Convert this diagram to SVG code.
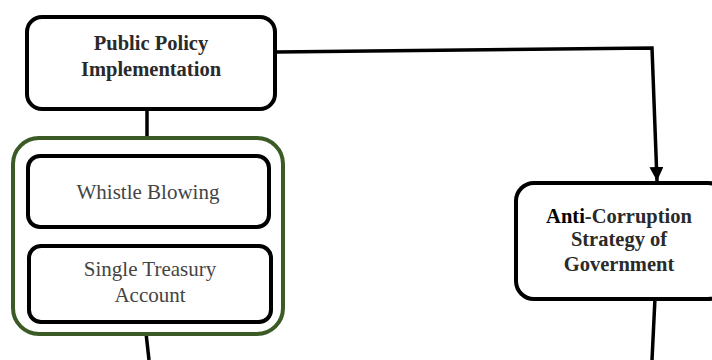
<svg xmlns="http://www.w3.org/2000/svg" width="712" height="360" viewBox="0 0 712 360">
<style>
.box{fill:#fff;stroke:#000;stroke-width:4}
.grp{fill:#fff;stroke:#3b5a26;stroke-width:4}
.t{font-family:"Liberation Serif","Times New Roman",serif;fill:#2a2a2a;text-anchor:middle}
.b{font-weight:bold;font-size:20.5px}
.r{font-size:21px;fill:#444}
.c{fill:none;stroke:#000;stroke-width:3.5}
</style>
<defs>
<marker id="ah" viewBox="0 0 10 10" refX="10" refY="5" markerWidth="4" markerHeight="4" orient="auto" markerUnits="strokeWidth">
<path d="M0,0 L10,5 L0,10 z" fill="#000"/>
</marker>
</defs>
<g id="connectors">
<polyline class="c" points="276,52 652,48 657,181" marker-end="url(#ah)"/>
<line class="c" x1="147" y1="110" x2="147" y2="138"/>
<line class="c" x1="146" y1="333" x2="149" y2="360"/>
<line class="c" x1="655" y1="298" x2="652" y2="360"/>
</g>
<g id="public-policy">
<rect class="box" x="27" y="17" width="248" height="92" rx="15"/>
<text class="t b" x="151" y="50">Public Policy</text>
<text class="t b" x="151" y="76">Implementation</text>
</g>
<g id="group">
<rect class="grp" x="13" y="138" width="270" height="196" rx="26"/>
</g>
<g id="whistle">
<rect class="box" x="28" y="156" width="241" height="71" rx="12"/>
<text class="t r" x="148" y="199">Whistle Blowing</text>
</g>
<g id="treasury">
<rect class="box" x="29" y="246" width="242" height="76" rx="12"/>
<text class="t r" x="150" y="276">Single Treasury</text>
<text class="t r" x="150" y="302">Account</text>
</g>
<g id="anti-corruption">
<rect class="box" x="516" y="183" width="210" height="116" rx="18"/>
<text class="t b" x="619" y="223"><tspan fill="#000">Anti</tspan>-Corruption</text>
<text class="t b" x="619" y="246">Strategy of</text>
<text class="t b" x="619" y="271">Government</text>
</g>
</svg>
